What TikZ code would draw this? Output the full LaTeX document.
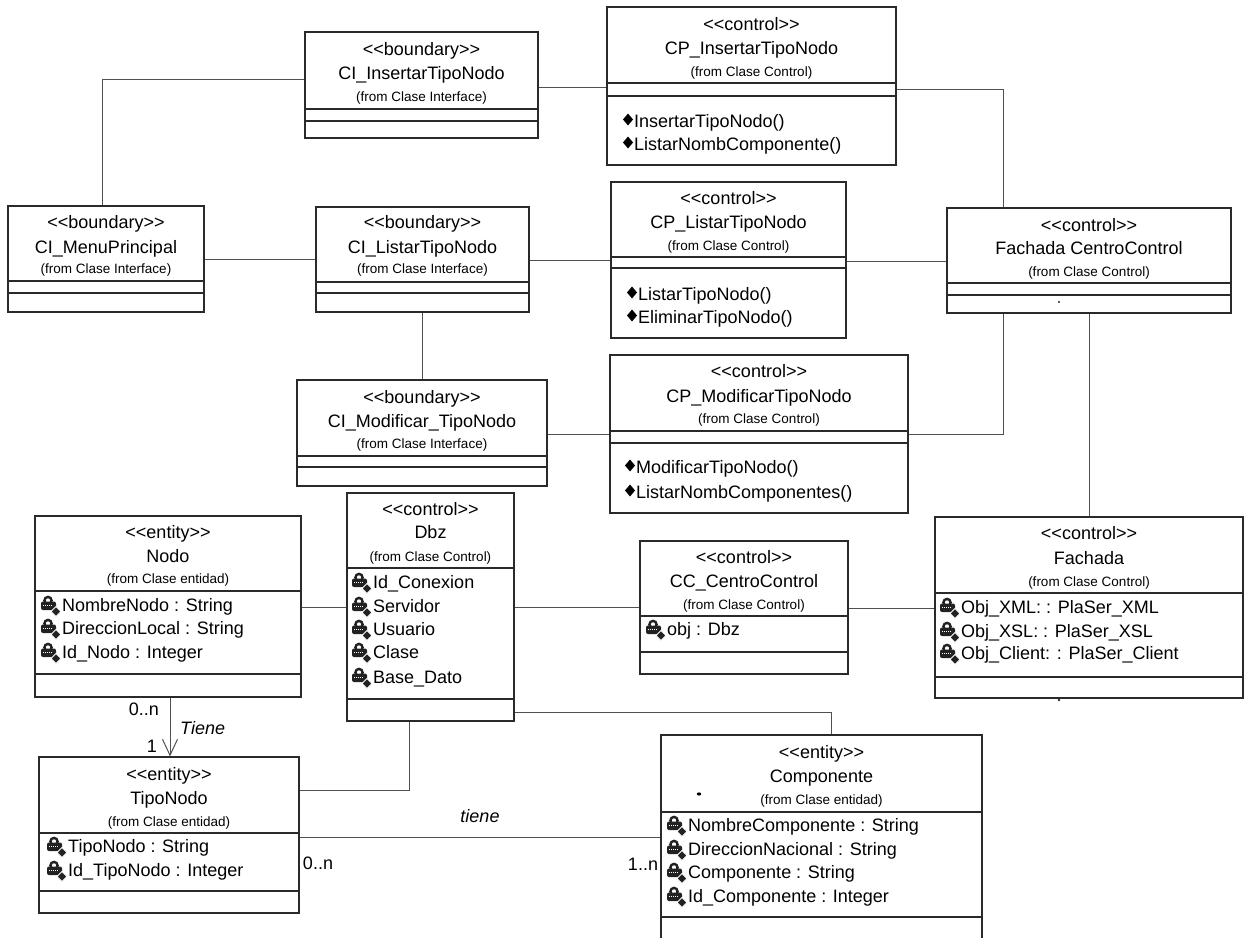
\documentclass[tikz,border=0pt]{standalone}
\usepackage{fontspec}
\setmainfont{Liberation Sans}
\usetikzlibrary{fit,arrows.meta}

\definecolor{boxgray}{HTML}{2A2A2A}
\definecolor{linkgray}{HTML}{505050}
\definecolor{icondark}{HTML}{222222}

\newcommand\fsmain{\fontsize{18}{22}\selectfont}
\newcommand\fsfrom{\fontsize{13.5}{16}\selectfont}
% keep "<<" and ">>" as two characters
\newcommand\stereo[1]{<\kern0pt<#1>\kern0pt>}

% class frame: name, x1, y1, x2, y2, first and second compartment line
\newcommand\classframe[7]{%
  \node[box, fit={(#2,#3) (#4,#5)}] (#1) {};
  \draw[sep] (#1.west |- 0,#6) -- (#1.east |- 0,#6);
  \draw[sep] (#1.west |- 0,#7) -- (#1.east |- 0,#7);
}
% class heading: name, y, stereotype, y, class name, y, package
\newcommand\classtitle[7]{%
  \node[tx] (#1-st) at (#1.north |- 0,#2) {\stereo{#3}};
  \node[tx] (#1-nm) at (#1.north |- 0,#4) {#5};
  \node[fromtx] (#1-pk) at (#1.north |- 0,#6) {(from Clase #7)};
}
% private attribute: node name, x, y, text
\newcommand\pattr[4]{%
  \pic at (#2,#3) {privattr};
  \node[attr] (#1) at (#2+21,#3) {#4};
}
% operation: node name, x, y, text
\newcommand\op[4]{%
  \pic at (#2,#3) {opdiamond};
  \node[attr] (#1) at (#2+11,#3) {#4};
}

\tikzset{
  privattr/.pic={
    \draw[icondark, line width=2.4pt] (7,-4.5) circle[radius=3.6];
    \fill[icondark, rounded corners=2pt] (0,-3.5) rectangle (15,5);
    \draw[white, line width=0.6pt, dash pattern=on 1pt off 1pt] (2,0.5) -- (12,0.5);
    \filldraw[fill=icondark, draw=white, line width=0.8pt]
      (15,1.5) -- (20,6.5) -- (15,11.5) -- (10,6.5) -- cycle;
  },
  opdiamond/.pic={
    \fill[black] (0,-1.5) -- (5,-7.5) -- (10,-1.5) -- (5,4.5) -- cycle;
  },
}

\begin{document}
\begin{tikzpicture}[x=1pt, y=-1pt,
  box/.style={draw=boxgray, line width=1.1pt, inner sep=0pt},
  sep/.style={draw=boxgray, line width=1.4pt},
  link/.style={draw=linkgray, line width=1pt},
  tx/.style={anchor=base, inner sep=0pt, font=\fsmain, yshift=-6.4pt},
  fromtx/.style={anchor=base, inner sep=0pt, font=\fsfrom, yshift=-4.6pt},
  attr/.style={anchor=base west, inner sep=0pt, font=\fsmain, yshift=-6.4pt},
  lbl/.style={inner sep=0pt, font=\fsmain},
  ilbl/.style={inner sep=0pt, font=\fsmain\itshape},
]
\useasboundingbox (0,0) rectangle (1244,937);
\fill[white] (0,0) rectangle (1244,937);
\clip (0,0) rectangle (1244,937);

% ---------- boundary classes ----------
\classframe{ciins}{305}{32}{538}{138}{109}{121}
\classtitle{ciins}{49}{boundary}{73}{CI\_InsertarTipoNodo}{97}{Interface}

\classframe{cimenu}{8}{206}{204}{312}{281}{293}
\classtitle{cimenu}{222}{boundary}{247}{CI\_MenuPrincipal}{269}{Interface}

\classframe{cilist}{316}{207}{529}{312}{282}{293}
\classtitle{cilist}{222}{boundary}{247}{CI\_ListarTipoNodo}{269}{Interface}

\classframe{cimod}{297}{380}{547}{486}{456}{467}
\classtitle{cimod}{397}{boundary}{421}{CI\_Modificar\_TipoNodo}{444}{Interface}

% ---------- control classes ----------
\classframe{cpins}{607}{7}{896}{165}{83}{96}
\classtitle{cpins}{24}{control}{48}{CP\_InsertarTipoNodo}{72}{Control}
\op{cpins-op1}{623}{121}{InsertarTipoNodo()}
\op{cpins-op2}{623}{144}{ListarNombComponente()}

\classframe{cplist}{611}{182}{846}{338}{257}{268}
\classtitle{cplist}{198}{control}{222}{CP\_ListarTipoNodo}{246}{Control}
\op{cplist-op1}{627}{294}{ListarTipoNodo()}
\op{cplist-op2}{627}{317}{EliminarTipoNodo()}

\classframe{cpmod}{610}{355}{908}{513}{431}{443}
\classtitle{cpmod}{371}{control}{396}{CP\_ModificarTipoNodo}{419}{Control}
\op{cpmod-op1}{625}{467}{ModificarTipoNodo()}
\op{cpmod-op2}{625}{492}{ListarNombComponentes()}

\classframe{fcc}{947}{208}{1231}{313}{283}{295}
\classtitle{fcc}{225}{control}{248}{Fachada CentroControl}{272}{Control}
\fill[boxgray] (1059,302) circle[radius=1.2];

\classframe{dbz}{347}{493}{514}{721}{568}{699}
\classtitle{dbz}{509}{control}{532}{Dbz}{557}{Control}
\pattr{dbz-a1}{352}{582}{Id\_Conexion}
\pattr{dbz-a2}{352}{606}{Servidor}
\pattr{dbz-a3}{352}{629}{Usuario}
\pattr{dbz-a4}{352}{652}{Clase}
\pattr{dbz-a5}{352}{677}{Base\_Dato}

\classframe{cc}{640}{541}{848}{674}{616}{652}
\classtitle{cc}{557}{control}{581}{CC\_CentroControl}{605}{Control}
\pattr{cc-a1}{646}{629}{obj : Dbz}

\classframe{fach}{935}{517}{1243}{698}{593}{677}
\classtitle{fach}{533}{control}{558}{Fachada}{582}{Control}
\pattr{fach-a1}{940}{607}{Obj\_XML: : PlaSer\_XML}
\pattr{fach-a2}{940}{631}{Obj\_XSL: : PlaSer\_XSL}
\pattr{fach-a3}{940}{653}{Obj\_Client: : PlaSer\_Client}
\fill[boxgray] (1059,700) circle[radius=1.3];

% ---------- entity classes ----------
\classframe{nodo}{35}{516}{301}{697}{591}{674}
\classtitle{nodo}{532}{entity}{556}{Nodo}{579}{entidad}
\pattr{nodo-a1}{41}{605}{NombreNodo : String}
\pattr{nodo-a2}{41}{628}{DireccionLocal : String}
\pattr{nodo-a3}{41}{652}{Id\_Nodo : Integer}

\classframe{tipo}{39}{757}{299}{913}{833}{891}
\classtitle{tipo}{774}{entity}{798}{TipoNodo}{822}{entidad}
\pattr{tipo-a1}{47}{846}{TipoNodo : String}
\pattr{tipo-a2}{47}{870}{Id\_TipoNodo : Integer}

\classframe{comp}{661}{735}{982}{945}{812}{917}
\classtitle{comp}{752}{entity}{776}{Componente}{800}{entidad}
\pattr{comp-a1}{667}{825}{NombreComponente : String}
\pattr{comp-a2}{667}{849}{DireccionNacional : String}
\pattr{comp-a3}{667}{872}{Componente : String}
\pattr{comp-a4}{667}{896}{Id\_Componente : Integer}
\fill[black] (699,794) ellipse[x radius=2.2, y radius=1.6];

% ---------- associations ----------
\draw[link] (cimenu.north -| 102,0) |- (ciins.west |- 0,79);
\draw[link] (cimenu.east |- 0,259) -- (cilist.west |- 0,259);
\draw[link] (ciins.east |- 0,87) -- (cpins.west |- 0,87);
\draw[link] (cilist.east |- 0,260) -- (cplist.west |- 0,260);
\draw[link] (cilist.south) -- (cilist.south |- cimod.north);
\draw[link] (cimod.east |- 0,434) -- (cpmod.west |- 0,434);
\draw[link] (cpins.east |- 0,89) -| (fcc.north -| 1003,0);
\draw[link] (cplist.east |- 0,261) -- (fcc.west |- 0,261);
\draw[link] (cpmod.east |- 0,434) -| (fcc.south -| 1003,0);
\draw[link] (fcc.south) -- (fach.north);
\draw[link] (nodo.east |- 0,607) -- (dbz.west |- 0,607);
\draw[link] (dbz.east |- 0,607) -- (cc.west |- 0,607);
\draw[link] (cc.east |- 0,608) -- (fach.west |- 0,608);
\draw[link, -{Straight Barb[length=16pt, width=15pt]}]
  (nodo.south -| 170,0) -- (tipo.north -| 170,0);
\draw[link] (tipo.east |- 0,790) -| (dbz.south -| 409,0);
\draw[link] (tipo.east |- 0,837) -- (comp.west |- 0,837);
\draw[link] (dbz.east |- 0,712) -| (comp.north -| 831,0);

% ---------- association labels ----------
\node[lbl, anchor=east] (m-nodo) at (159,709) {0..n};
\node[ilbl, anchor=west] (r-tiene1) at (180,728) {Tiene};
\node[lbl] (m-tipo1) at (152,746) {1};
\node[ilbl] (r-tiene2) at (480,816) {tiene};
\node[lbl] (m-tipo2) at (318,863) {0..n};
\node[lbl] (m-comp) at (643,864) {1..n};
\end{tikzpicture}
\end{document}
